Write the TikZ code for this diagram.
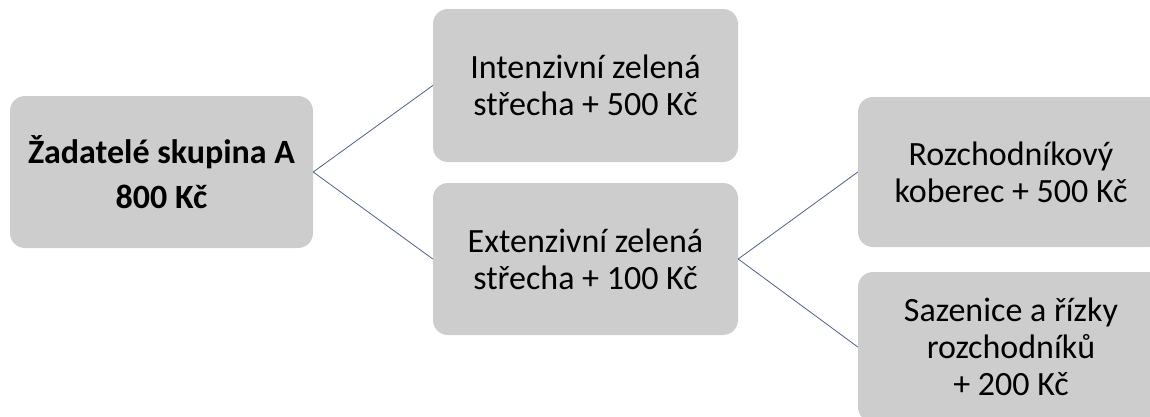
\documentclass[tikz,border=0pt]{standalone}
\usepackage{fontspec}
\setmainfont{Carlito}
\definecolor{boxgray}{RGB}{205,205,205}
\definecolor{linkblue}{RGB}{78,96,138}
\begin{document}
\begin{tikzpicture}[x=1pt,y=-1pt,
  box/.style={fill=boxgray, draw=none, rounded corners=15pt, align=center,
    inner sep=0pt, font=\fontsize{34}{37}\selectfont},
  link/.style={draw=linkblue, line width=0.8pt}]
\useasboundingbox (0,0) rectangle (1150,416);
\clip (0,0) rectangle (1150,416);
\node[box, minimum width=303pt, minimum height=152pt,
  font=\fontsize{34}{45}\selectfont\bfseries] (L) at (161.5,172) {Žadatelé skupina A\\800 Kč};
\node[box, minimum width=305pt, minimum height=153pt] (I) at (585.5,85.5) {Intenzivní zelená\\střecha + 500 Kč};
\node[box, minimum width=305pt, minimum height=152pt] (E) at (585.5,259) {Extenzivní zelená\\střecha + 100 Kč};
\node[box, minimum width=306pt, minimum height=150pt] (R) at (1011,172) {Rozchodníkový\\koberec + 500 Kč};
\node[box, minimum width=306pt, minimum height=150pt] (S) at (1011,347) {Sazenice a řízky\\rozchodníků\\+ 200 Kč};
\draw[link] (L.east) -- (I.west);
\draw[link] (L.east) -- (E.west);
\draw[link] (E.east) -- (R.west);
\draw[link] (E.east) -- (S.west);
\end{tikzpicture}
\end{document}
